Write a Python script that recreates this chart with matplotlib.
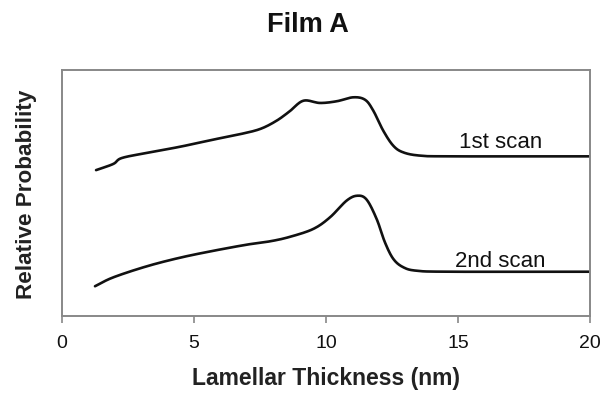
import matplotlib
matplotlib.use("Agg")
import matplotlib.pyplot as plt
import numpy as np

plt.rcParams['font.family'] = ['Liberation Sans', 'DejaVu Sans']

# 1st scan (upper curve), thickness in nm vs relative probability
x_first = [1.29, 1.94, 2.26, 3.21, 4.47, 5.73, 6.74, 7.50, 8.10, 8.60, 9.14,
           9.77, 10.41, 11.03, 11.48, 11.79, 12.17, 12.55, 12.93, 13.56, 14.70, 20.0]
y_first = [0.593, 0.618, 0.642, 0.663, 0.688, 0.717, 0.739, 0.760, 0.792, 0.830, 0.875,
           0.866, 0.873, 0.889, 0.879, 0.835, 0.753, 0.692, 0.665, 0.652, 0.649, 0.649]

# 2nd scan (lower curve)
x_second = [1.25, 1.94, 3.21, 4.47, 5.73, 7.00, 7.90, 8.64, 9.52, 10.15, 10.78,
            11.19, 11.54, 11.92, 12.23, 12.55, 12.93, 13.44, 14.70, 20.0]
y_second = [0.121, 0.157, 0.202, 0.237, 0.265, 0.290, 0.304, 0.322, 0.354, 0.401, 0.469,
            0.489, 0.473, 0.394, 0.300, 0.232, 0.198, 0.184, 0.180, 0.180]

x_ticks = [0, 5, 10, 15, 20]


def smooth(xs, ys):
    # Catmull-Rom through the read points
    xs = np.asarray(xs, float)
    ys = np.asarray(ys, float)
    px = np.concatenate([[2 * xs[0] - xs[1]], xs, [2 * xs[-1] - xs[-2]]])
    py = np.concatenate([[2 * ys[0] - ys[1]], ys, [2 * ys[-1] - ys[-2]]])
    out_x, out_y = [], []
    for i in range(1, len(px) - 2):
        t = np.linspace(0, 1, 20, endpoint=False)
        for arr, out in ((px, out_x), (py, out_y)):
            p0, p1, p2, p3 = arr[i - 1], arr[i], arr[i + 1], arr[i + 2]
            out.extend(0.5 * ((2 * p1) + (-p0 + p2) * t
                              + (2 * p0 - 5 * p1 + 4 * p2 - p3) * t ** 2
                              + (-p0 + 3 * p1 - 3 * p2 + p3) * t ** 3))
    out_x.append(xs[-1])
    out_y.append(ys[-1])
    return out_x, out_y


fig = plt.figure(figsize=(6.03, 4.02), dpi=100)
ax = fig.add_axes([62 / 603, 1 - 317 / 402, 528 / 603, 246 / 402])

for xs, ys in ((x_first, y_first), (x_second, y_second)):
    sx, sy = smooth(xs, ys)
    ax.plot(sx, sy, color='#111111', lw=1.9, solid_capstyle='round')

ax.text(16.6, 0.711, "1st scan", fontsize=16, ha='center', va='center', color='#111111')
ax.text(16.6, 0.224, "2nd scan", fontsize=16, ha='center', va='center', color='#111111')

ax.set_xlim(0, 20)
ax.set_ylim(0, 1)
ax.set_xticks(x_ticks)
ax.set_xticklabels([str(t) for t in x_ticks])
ax.set_yticks([])
ax.tick_params(axis='x', direction='out', length=5, width=1.2, color='#888888',
               labelsize=14, pad=8, labelcolor='#111111')
for s in ax.spines.values():
    s.set_color('#888888')
    s.set_linewidth(1.4)

ax.set_xlabel("Lamellar Thickness (nm)", fontsize=16.5, fontweight='bold', labelpad=11,
              color='#222222')
ax.set_ylabel("Relative Probability", fontsize=16.2, fontweight='bold', labelpad=18,
              color='#222222')

fig.text(308 / 603, 1 - 25 / 402, "Film A", fontsize=19.5, fontweight='bold',
         ha='center', va='center', color='#111111')

fig.savefig("out.png", dpi=100)
